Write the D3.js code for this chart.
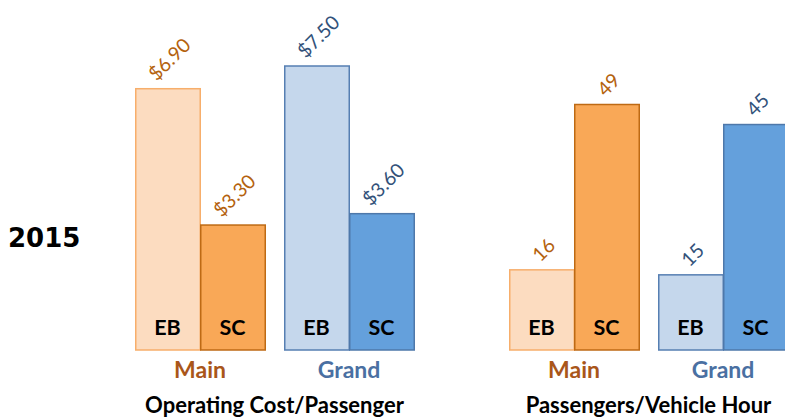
<!DOCTYPE html>
<html>
<head>
<meta charset="utf-8">
<script src="https://cdn.jsdelivr.net/npm/d3@7"></script>
<style>
  html, body { margin: 0; padding: 0; background: #fff; }
  svg { display: block; font-family: Lato, "Open Sans", sans-serif; }
</style>
</head>
<body>
<svg id="chart" width="785" height="420"></svg>
<script>
// Route groups and service types
const groups = ["Main", "Grand"];
const services = ["EB", "SC"];

// Operating cost per passenger (dollars), per group: [EB, SC]
const costMain = [6.90, 3.30];
const costGrand = [7.50, 3.60];

// Passengers per vehicle hour, per group: [EB, SC]
const pphMain = [16, 49];
const pphGrand = [15, 45];

const panelTitles = ["Operating Cost/Passenger", "Passengers/Vehicle Hour"];
const yearLabel = "2015";

// Colours per group: light fill for EB, saturated fill for SC
const palette = {
  Main:  { fill: ["#FCDCC0", "#F9A857"], stroke: ["#F7AE6B", "#BE6A14"], label: "#B4620E", group: "#A9561A" },
  Grand: { fill: ["#C5D7EC", "#64A0DC"], stroke: ["#567FB2", "#4E78AA"], label: "#33527A", group: "#4A70A2" }
};

const svg = d3.select("#chart");
const baseY = 350;

const panels = [
  { title: panelTitles[0], values: [costMain, costGrand], fmt: d3.format("$.2f"),
    x0: 135, yMax: 7.5, yTop: 66 },
  { title: panelTitles[1], values: [pphMain, pphGrand], fmt: d3.format("d"),
    x0: 509, yMax: 49, yTop: 104.5 }
];

panels.forEach(p => {
  const x = d3.scaleBand().domain(groups).range([p.x0, p.x0 + 279]).paddingInner(19 / 149).paddingOuter(0);
  const xs = d3.scaleBand().domain(services).range([0, x.bandwidth()]).padding(0);
  const y = d3.scaleLinear().domain([0, p.yMax]).range([baseY, p.yTop]);

  const g = svg.append("g");

  groups.forEach((grp, gi) => {
    const gg = g.append("g").attr("transform", `translate(${x(grp)},0)`);
    const vals = p.values[gi];
    const col = palette[grp];

    gg.selectAll("rect")
      .data(vals)
      .join("rect")
      .attr("x", (d, i) => xs(services[i]) + 0.75)
      .attr("width", xs.bandwidth() - 0.5)
      .attr("y", d => y(d))
      .attr("height", d => baseY - y(d))
      .attr("fill", (d, i) => col.fill[i])
      .attr("stroke", (d, i) => col.stroke[i])
      .attr("stroke-width", 1.5);

    // service type inside each bar
    gg.selectAll("text.svc")
      .data(services)
      .join("text")
      .attr("class", "svc")
      .attr("x", s => xs(s) + xs.bandwidth() / 2)
      .attr("y", baseY - 15)
      .attr("text-anchor", "middle")
      .attr("font-size", 21.5)
      .attr("font-weight", 700)
      .attr("fill", "#000")
      .text(s => s);

    // rotated value labels above bars
    vals.forEach((v, i) => {
      const cx = x(grp) + xs(services[i]) + xs.bandwidth() / 2 + 2;
      const holder = g.append("g");
      const t = holder.append("text")
        .attr("x", 0)
        .attr("y", 7)
        .attr("text-anchor", "middle")
        .attr("font-size", 19.5)
        .attr("fill", col.label)
        .text(p.fmt(v));
      const L = t.node().getComputedTextLength();
      const half = (L + 14) / 2 * Math.SQRT1_2;
      const cy = y(v) - 7 - half;
      holder.attr("transform", `translate(${cx},${cy}) rotate(-45)`);
    });

    // group name
    g.append("text")
      .attr("x", x(grp) + x.bandwidth() / 2)
      .attr("y", 378)
      .attr("text-anchor", "middle")
      .attr("font-size", 23)
      .attr("font-weight", 700)
      .attr("fill", col.group)
      .text(grp);
  });

  // panel title
  const [r0, r1] = x.range();
  g.append("text")
    .attr("x", (r0 + r1) / 2)
    .attr("y", 413)
    .attr("text-anchor", "middle")
    .attr("font-size", 22)
    .attr("font-weight", 700)
    .attr("fill", "#000")
    .text(p.title);
});

// year label
svg.append("text")
  .attr("x", 8)
  .attr("y", 247)
  .attr("font-family", "'DejaVu Sans', sans-serif")
  .attr("font-size", 26)
  .attr("font-weight", 700)
  .attr("fill", "#000")
  .text(yearLabel);
</script>
</body>
</html>
